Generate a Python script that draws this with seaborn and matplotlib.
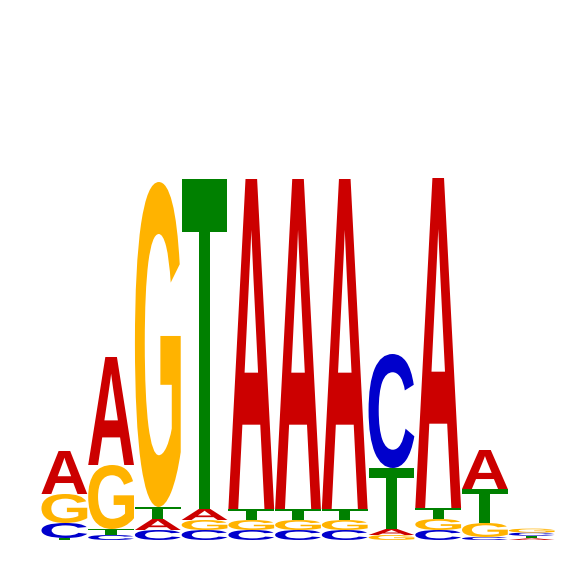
"""Sequence logo (11 positions) drawn with stacked, stretched letter glyphs."""
import matplotlib

matplotlib.use("Agg")
import matplotlib.pyplot as plt
import pandas as pd
import seaborn as sns
from matplotlib.font_manager import FontProperties
from matplotlib.patches import PathPatch
from matplotlib.textpath import TextPath
from matplotlib.transforms import Affine2D

POSITIONS = list(range(1, 12))
A_BITS = [0.215, 0.54, 0.055, 0.055, 1.65, 1.65, 1.65, 0.03, 1.65, 0.195, 0.008]
C_BITS = [0.075, 0.025, 0.05, 0.05, 0.05, 0.05, 0.05, 0.57, 0.05, 0.015, 0.016]
G_BITS = [0.145, 0.32, 1.625, 0.05, 0.05, 0.05, 0.05, 0.025, 0.055, 0.07, 0.02]
T_BITS = [0.01, 0.03, 0.06, 1.65, 0.055, 0.055, 0.055, 0.305, 0.055, 0.17, 0.013]

COLORS = {"A": "#CC0000", "C": "#0000CC", "G": "#FFB300", "T": "#008000"}
FONT = FontProperties(family="Liberation Sans", weight="bold")
LETTER_WIDTH = 0.98


def letter_patch(ch, x0, y0, w, h, color):
    tp = TextPath((0, 0), ch, size=1, prop=FONT)
    bb = tp.get_extents()
    tr = (
        Affine2D()
        .translate(-bb.x0, -bb.y0)
        .scale(w / bb.width, h / bb.height)
        .translate(x0, y0)
    )
    return PathPatch(tr.transform_path(tp), facecolor=color, edgecolor="none")


def main():
    sns.set_style("white")
    df = pd.DataFrame({"A": A_BITS, "C": C_BITS, "G": G_BITS, "T": T_BITS},
                      index=POSITIONS)

    fig = plt.figure(figsize=(5.66, 5.66), dpi=100)
    ax = fig.add_axes([41 / 566, 26 / 566, 514 / 566, 400 / 566])

    for pos, row in df.iterrows():
        # smallest letter at the bottom, biggest on top
        stack = sorted(row.items(), key=lambda kv: kv[1])
        y = 0.0
        for ch, h in stack:
            if h > 0:
                ax.add_patch(letter_patch(ch, pos - LETTER_WIDTH / 2, y,
                                          LETTER_WIDTH, h, COLORS[ch]))
            y += h

    ax.set_xlim(0.5, 11.5)
    ax.set_ylim(0, 2.0)
    ax.axis("off")
    sns.despine(ax=ax, left=True, bottom=True)
    fig.savefig("out.png", dpi=100)
    plt.close(fig)


if __name__ == "__main__":
    main()
